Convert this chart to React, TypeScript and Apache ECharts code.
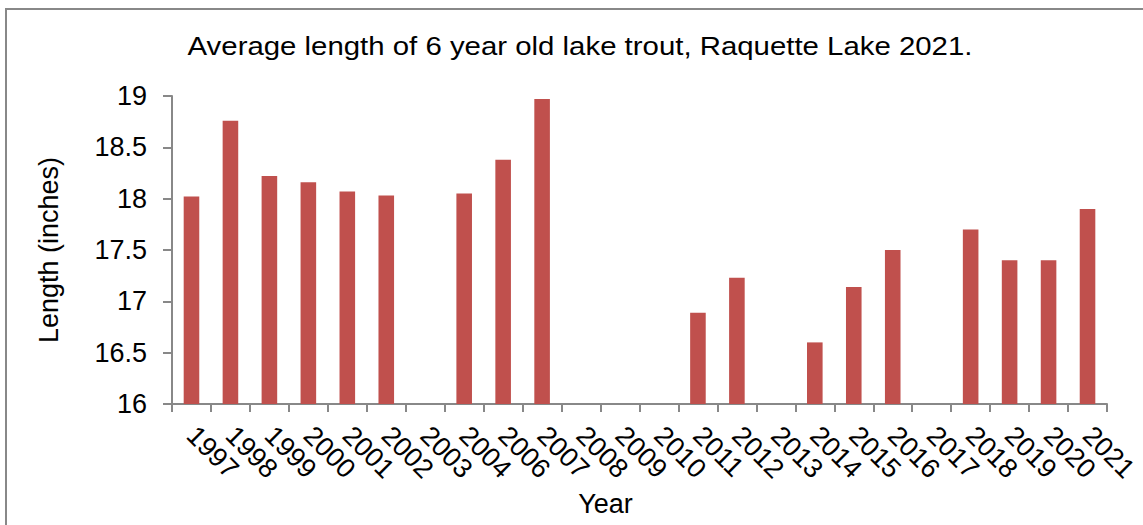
import React, { useEffect, useRef } from "react";
import * as echarts from "echarts";

const years = ["1997","1998","1999","2000","2001","2002","2003","2004","2006","2007","2008","2009","2010","2011","2012","2013","2014","2015","2016","2017","2018","2019","2020","2021"];
const lengths = [18.02,18.76,18.22,18.16,18.07,18.03,16,18.05,18.38,18.97,16,16,16,16.89,17.23,16,16.6,17.14,17.5,16,17.7,17.4,17.4,17.9];
const yTicks = [16, 16.5, 17, 17.5, 18, 18.5, 19];
const titleText = "Average length of 6 year old lake trout, Raquette Lake 2021.";

const FONT = "Liberation Sans, Arial, sans-serif";

export default function App() {
  const ref = useRef<HTMLDivElement>(null);
  useEffect(() => {
    const chart = echarts.init(ref.current!, null, { renderer: "svg" });
    chart.setOption({
      animation: false,
      backgroundColor: "#ffffff",
      graphic: [
        {
          type: "rect",
          shape: { x: 6, y: 9, width: 1160, height: 540 },
          style: { fill: "none", stroke: "#888888", lineWidth: 2 },
          silent: true,
        },
        {
          type: "text",
          x: 580,
          y: 46,
          scaleX: 1.13,
          style: {
            text: titleText,
            fontFamily: FONT,
            fontSize: 26,
            fill: "#000",
            align: "center",
            verticalAlign: "middle",
          },
        },
      ],
      grid: { left: 172, right: 36, top: 96, bottom: 121 },
      xAxis: {
        type: "category",
        data: years,
        name: "Year",
        nameLocation: "middle",
        nameGap: 84,
        nameTextStyle: { fontFamily: FONT, fontSize: 27, color: "#000", padding: [0, 68, 0, 0] },
        axisLine: { lineStyle: { color: "#888888", width: 2 } },
        axisTick: { show: true, length: 8, lineStyle: { color: "#888888", width: 2 } },
        axisLabel: {
          rotate: -45,
          interval: 0,
          margin: 27,
          fontFamily: FONT,
          fontSize: 27,
          color: "#000",
        },
      },
      yAxis: {
        type: "value",
        min: 16,
        max: 19,
        interval: 0.5,
        name: "Length (inches)",
        nameLocation: "middle",
        nameGap: 110,
        nameTextStyle: { fontFamily: FONT, fontSize: 27, color: "#000" },
        axisLine: { show: true, lineStyle: { color: "#888888", width: 2 } },
        axisTick: { show: true, length: 9, lineStyle: { color: "#888888", width: 2 } },
        splitLine: { show: false },
        axisLabel: {
          margin: 25,
          fontFamily: FONT,
          fontSize: 27,
          color: "#000",
          formatter: (v: number) => (yTicks.includes(v) ? String(v) : ""),
        },
      },
      series: [
        {
          type: "bar",
          data: lengths,
          barWidth: "40%",
          barMinHeight: 2,
          itemStyle: { color: "#C0504D" },
        },
      ],
    });
    return () => chart.dispose();
  }, []);
  return (
    <div
      ref={ref}
      style={{ position: "fixed", left: 0, top: 0, width: 1143, height: 525 }}
    />
  );
}
